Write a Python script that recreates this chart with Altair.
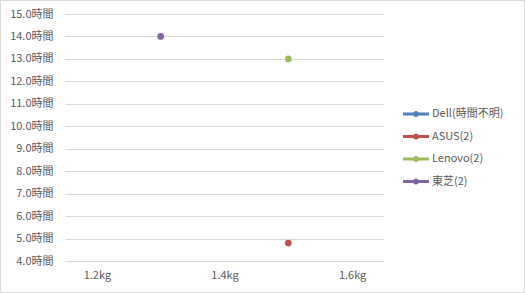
import altair as alt
import pandas as pd

series = ["Dell(時間不明)", "ASUS(2)", "Lenovo(2)", "東芝(2)"]
colors = ["#4F81BD", "#C0504D", "#9BBB59", "#8064A2"]
pt_series = ["ASUS(2)", "Lenovo(2)", "東芝(2)"]
weights = [1.5, 1.5, 1.3]
hours = [4.8, 13.0, 14.0]
x_ticks = [1.2, 1.4, 1.6]
y_ticks = [4, 5, 6, 7, 8, 9, 10, 11, 12, 13, 14, 15]

df = pd.DataFrame({"series": pt_series, "weight": weights, "hours": hours})

FONT = "Noto Sans CJK JP"
TXT = "#595959"

sym = ("M-1,-0.115H1V0.115H-1Z "
       "M0.24,0A0.24,0.24 0 1,1 -0.24,0A0.24,0.24 0 1,1 0.24,0Z")

points = alt.Chart(df).mark_circle(size=45, opacity=1).encode(
    x=alt.X("weight:Q", scale=alt.Scale(domain=[1.15, 1.65], nice=False, zero=False),
            axis=alt.Axis(values=x_ticks, labelExpr="format(datum.value,'.1f') + 'kg'",
                          grid=False, ticks=False, domain=False, title=None,
                          labelPadding=8, labelFontSize=11, labelFont=FONT,
                          labelColor=TXT)),
    y=alt.Y("hours:Q", scale=alt.Scale(domain=[4, 15], nice=False, zero=False),
            axis=alt.Axis(values=y_ticks, labelExpr="format(datum.value,'.1f') + '時間'",
                          grid=True, gridColor="#D9D9D9", ticks=False, domain=False,
                          title=None, labelPadding=12, labelFontSize=11, labelFont=FONT,
                          labelColor=TXT)),
    color=alt.Color("series:N", scale=alt.Scale(domain=series, range=colors),
                    legend=alt.Legend(title=None, orient="none", legendX=338, legendY=94,
                                      symbolType=sym, symbolSize=676, symbolStrokeWidth=0,
                                      symbolOpacity=1, labelFont=FONT, labelFontSize=11,
                                      labelColor=TXT, labelOffset=3, clipHeight=12,
                                      rowPadding=10.5)),
)

border = alt.Chart(df).mark_rect(fill=None, stroke="#D9D9D9", strokeWidth=1).encode(
    x=alt.value(-64.5), x2=alt.value(459.5), y=alt.value(-13.5), y2=alt.value(278.5)
)

chart = alt.layer(points, border).properties(
    width=319, height=247,
    autosize=alt.AutoSizeParams(type="none"),
    padding={"left": 65, "top": 14, "right": 141, "bottom": 32},
    background="white",
).configure_view(stroke=None)

chart.save("out.html", embed_options={"renderer": "svg", "actions": False})
